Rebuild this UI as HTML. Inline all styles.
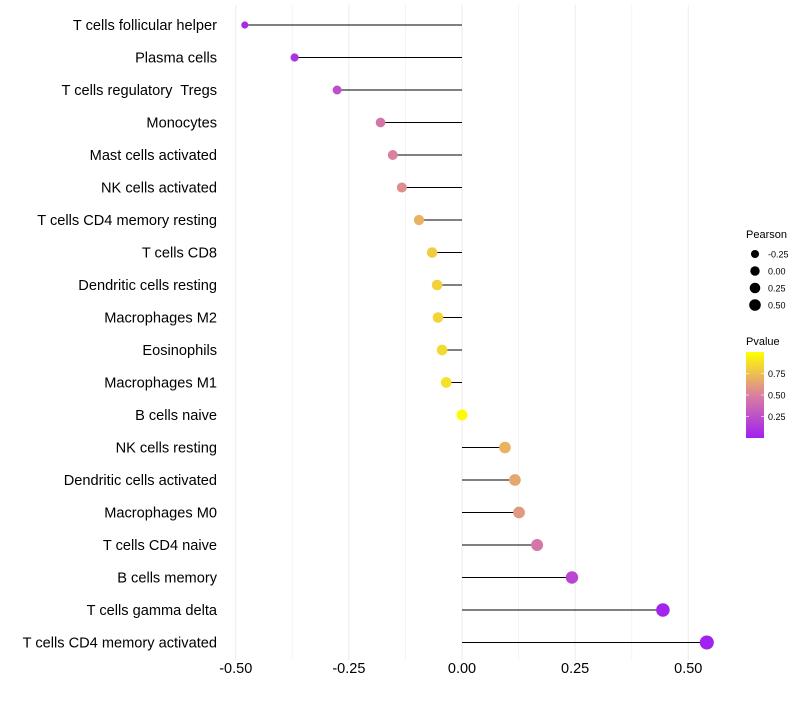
<!DOCTYPE html>
<html><head><meta charset="utf-8"><style>
body{margin:0;background:#fff;font-family:"Liberation Sans",sans-serif}
text{white-space:pre}
</style></head><body>
<svg id="c" width="800" height="700" xmlns="http://www.w3.org/2000/svg" font-family="Liberation Sans, sans-serif" xml:space="preserve"></svg>
<script>
const categories=["T cells follicular helper","Plasma cells","T cells regulatory  Tregs","Monocytes","Mast cells activated","NK cells activated","T cells CD4 memory resting","T cells CD8","Dendritic cells resting","Macrophages M2","Eosinophils","Macrophages M1","B cells naive","NK cells resting","Dendritic cells activated","Macrophages M0","T cells CD4 naive","B cells memory","T cells gamma delta","T cells CD4 memory activated"];
const pearson=[-0.48,-0.37,-0.276,-0.18,-0.153,-0.133,-0.095,-0.066,-0.055,-0.053,-0.044,-0.035,0.0,0.095,0.117,0.126,0.166,0.243,0.444,0.541];
const pvalue=[0.05,0.1,0.25,0.45,0.5,0.55,0.7,0.8,0.82,0.83,0.85,0.88,0.99,0.7,0.65,0.6,0.45,0.2,0.02,0.01];
const xTicks=[-0.5,-0.25,0,0.25,0.5];
const xTickLabels=["-0.50","-0.25","0.00","0.25","0.50"];
const sizeLegend=[-0.25,0,0.25,0.5];
const sizeLegendLabels=["-0.25","0.00","0.25","0.50"];
const colorTicks=[0.25,0.5,0.75];
const colorTickLabels=["0.25","0.50","0.75"];

const svg=document.getElementById('c');const NS="http://www.w3.org/2000/svg";
function mk(t,a,p){const e=document.createElementNS(NS,t);for(const k in a)e.setAttribute(k,a[k]);(p||svg).appendChild(e);return e;}
const x=v=>462+v*452.5;
const y=i=>25+i*32.5;
const r=v=>Math.sqrt(Math.max(4,30+36*v));
function col(p){const s=[[0,[160,32,240]],[0.5,[218,128,160]],[1,[255,255,0]]];let a=s[0],b=s[1];if(p>0.5){a=s[1];b=s[2];}const t=(p-a[0])/(b[0]-a[0]);const c=a[1].map((v,k)=>Math.round(v+(b[1][k]-v)*t));return `rgb(${c.join(',')})`;}
for(let k=-4;k<=4;k++){const g=mk('line',{x1:x(k*0.125),x2:x(k*0.125),y1:5,y2:660,stroke:k%2==0?'#ebebeb':'#f4f4f4','stroke-width':1});}
xTicks.forEach((v,i)=>{const t=mk('text',{x:x(v),y:673,'font-size':14.5,'text-anchor':'middle',fill:'#000'});t.textContent=xTickLabels[i];});
categories.forEach((c,i)=>{
const t=mk('text',{x:217,y:y(i)+5,'font-size':14.6,'text-anchor':'end',fill:'#000'});t.textContent=c;

const l=mk('line',{x1:x(0),x2:x(pearson[i]),y1:y(i),y2:y(i),stroke:'#000','stroke-width':1});

const d=mk('circle',{cx:x(pearson[i]),cy:y(i),r:r(pearson[i]),fill:col(pvalue[i])});

});
let t=mk('text',{x:746,y:238,'font-size':11});t.textContent='Pearson';
sizeLegend.forEach((v,i)=>{const cy=254+i*17;const c=mk('circle',{cx:755,cy:cy,r:r(v)*0.75+0.6,fill:'#000'});
const s=mk('text',{x:768,y:cy+3.5,'font-size':9});s.textContent=sizeLegendLabels[i];});
t=mk('text',{x:746,y:345,'font-size':11});t.textContent='Pvalue';
const defs=mk('defs',{});const lg=mk('linearGradient',{id:'g',x1:0,y1:1,x2:0,y2:0},defs);
[0,0.25,0.5,0.75,1].forEach(p=>mk('stop',{offset:p,'stop-color':col(p)},lg));
const bar=mk('rect',{x:746,y:352,width:18,height:86,fill:'url(#g)'});
colorTicks.forEach((p,i)=>{const cy=438-p*86;mk('line',{x1:746,x2:749,y1:cy,y2:cy,stroke:'#fff','stroke-opacity':0.6});mk('line',{x1:761,x2:764,y1:cy,y2:cy,stroke:'#fff','stroke-opacity':0.6});
const s=mk('text',{x:768,y:cy+3.5,'font-size':9});s.textContent=colorTickLabels[i];});
</script>
</body></html>
